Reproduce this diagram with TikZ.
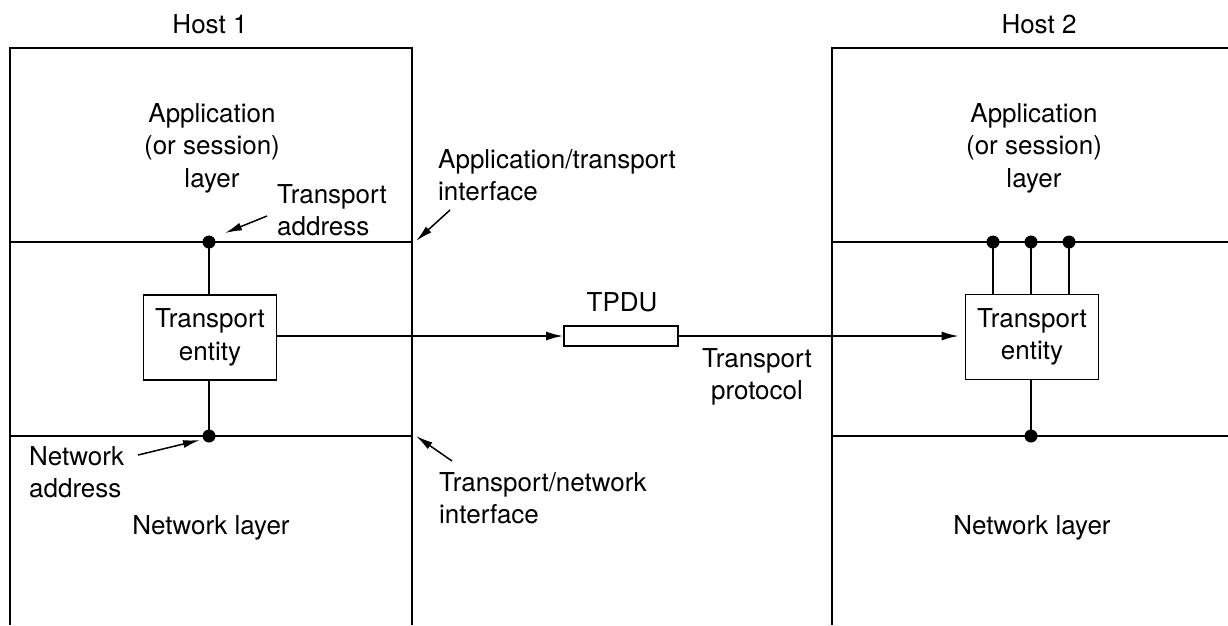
\documentclass[tikz,border=0pt]{standalone}
\usepackage{fontspec}
\setmainfont{TeX Gyre Heros}
\usetikzlibrary{arrows.meta}
\begin{document}
\begin{tikzpicture}[x=1pt,y=-1pt,
  every node/.style={font=\fontsize{26}{32.5}\selectfont, inner sep=0pt},
  ln/.style={line width=1.8pt},
  arr/.style={line width=1.8pt,-{Latex[length=17pt,width=9pt]}},
  dot/.style={circle,fill=black,minimum size=13pt,inner sep=0pt},
  entity/.style={draw,line width=1.8pt,minimum width=133pt,minimum height=85pt,align=center},
  lbl/.style={align=center},
  lbll/.style={align=left,anchor=west}]
\useasboundingbox (0,0) rectangle (1228,625);
% Host boxes
\draw[ln] (10,625) -- (10,48) -- (412,48) -- (412,625);
\draw[ln] (10,242) -- (412,242);
\draw[ln] (10,436) -- (412,436);
\draw[ln] (832,625) -- (832,48) -- (1228,48);
\draw[ln] (832,242) -- (1228,242);
\draw[ln] (832,436) -- (1228,436);
% labels
\node[lbl] (h1) at (210,24) {Host 1};
\node[lbl] (h2) at (1039,24) {Host 2};
\node[lbl] (app1) at (212,148) {Application\\(or session)\\layer};
\node[lbl] (app2) at (1034,148) {Application\\(or session)\\layer};
\node[lbl] (nl1) at (211,528) {Network layer};
\node[lbl] (nl2) at (1032,528) {Network layer};
% entities
\node[entity] (te1) at (210,337.5) {Transport\\entity};
\node[entity] (te2) at (1032,337) {Transport\\entity};
\node[draw,line width=1.8pt,minimum width=114pt,minimum height=20pt] (tpdu) at (621,336) {};
\node[lbl] (tpdul) at (622,302) {TPDU};
\node[lbl] (tprot) at (757,377) {Transport\\protocol};
% dots
\node[dot] (d1) at (209,242) {};
\node[dot] (d2) at (209,436) {};
\node[dot] (e1) at (993,242) {};
\node[dot] (e2) at (1031,242) {};
\node[dot] (e3) at (1069,242) {};
\node[dot] (e4) at (1031,436) {};
% vertical links
\draw[ln] (d1.center) -- (d1.center |- te1.north);
\draw[ln] (te1.south -| d2) -- (d2.center);
\draw[ln] (e1.center) -- (e1.center |- te2.north);
\draw[ln] (e2.center) -- (e2.center |- te2.north);
\draw[ln] (e3.center) -- (e3.center |- te2.north);
\draw[ln] (te2.south -| e4) -- (e4.center);
% main arrows
\draw[arr] (te1.east |- tpdu.west) -- (tpdu.west);
\draw[arr,shorten >=6pt] (tpdu.east) -- (tpdu.east -| te2.west);
% annotation labels
\node[lbll] (ta) at (277,210) {Transport\\address};
\node[lbll] (ati) at (438,175) {Application/transport\\interface};
\node[lbll] (na) at (29,472) {Network\\address};
\node[lbll] (tni) at (439,498) {Transport/network\\interface};
% annotation arrows
\coordinate (ta1) at (267,216); \coordinate (ta2) at (225,233);
\coordinate (ati1) at (450,210); \coordinate (ati2) at (416,241);
\coordinate (na1) at (138,455); \coordinate (na2) at (200,440);
\coordinate (tni1) at (452,461); \coordinate (tni2) at (416,436);
\draw[line width=1.5pt,-{Latex[length=17pt,width=8pt]}] (ta1) -- (ta2);
\draw[line width=1.5pt,-{Latex[length=17pt,width=8pt]}] (ati1) -- (ati2);
\draw[line width=1.5pt,-{Latex[length=17pt,width=8pt]}] (na1) -- (na2);
\draw[line width=1.5pt,-{Latex[length=17pt,width=8pt]}] (tni1) -- (tni2);
\end{tikzpicture}
\end{document}
